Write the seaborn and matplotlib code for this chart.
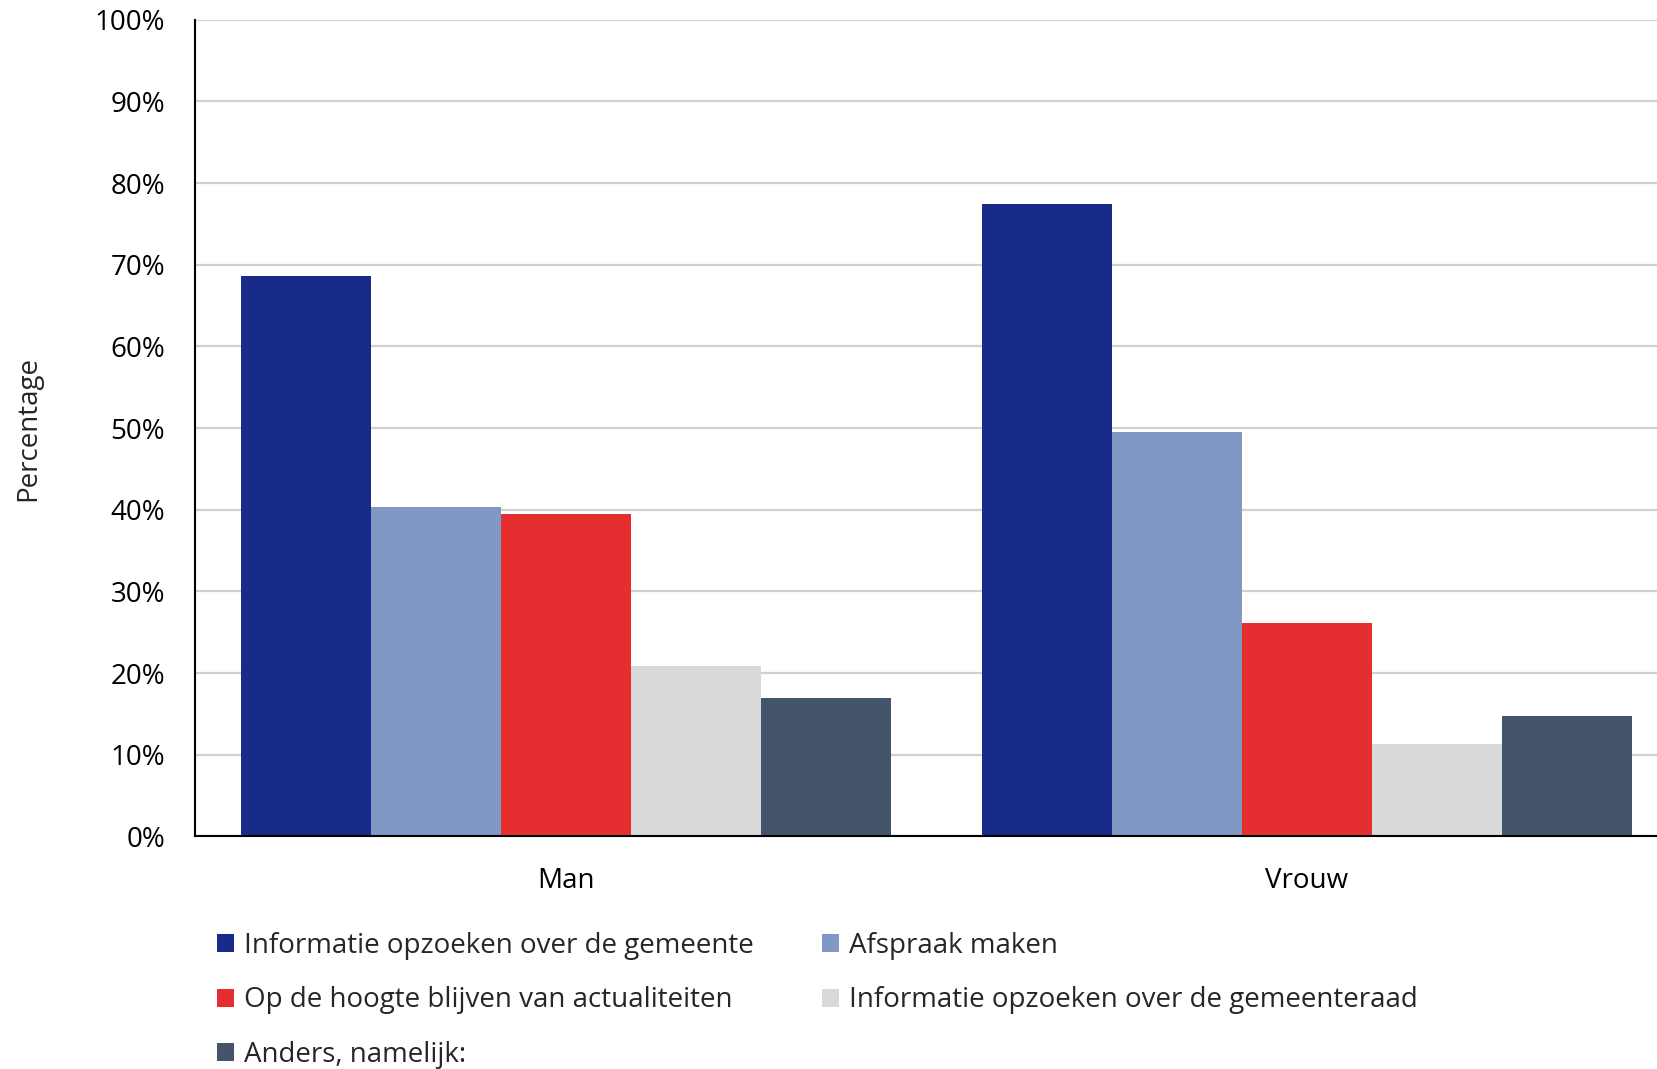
import matplotlib
matplotlib.use("Agg")
import matplotlib.pyplot as plt
from matplotlib.patches import Patch
from matplotlib.ticker import PercentFormatter
import seaborn as sns
import pandas as pd

# Doel van het websitebezoek, uitgesplitst naar geslacht (percentages)
groups = ["Man", "Vrouw"]
purposes = [
    "Informatie opzoeken over de gemeente",
    "Afspraak maken",
    "Op de hoogte blijven van actualiteiten",
    "Informatie opzoeken over de gemeenteraad",
    "Anders, namelijk:",
]
man_values = [68.6, 40.3, 39.5, 20.9, 17.0]
vrouw_values = [77.4, 49.5, 26.1, 11.3, 14.8]
colors = ["#182B88", "#8198C5", "#E52E2F", "#D9D9D9", "#44546A"]
y_ticks = [0, 10, 20, 30, 40, 50, 60, 70, 80, 90, 100]

df = pd.DataFrame({
    "groep": [g for g in groups for _ in purposes],
    "doel": purposes * len(groups),
    "percentage": man_values + vrouw_values,
})

sns.set_theme(style="white")
plt.rcParams["font.family"] = ["Open Sans", "DejaVu Sans"]

fig = plt.figure(figsize=(16.58, 10.69), dpi=100)
ax = fig.add_axes([0.1176, 0.2175, 0.8824, 0.7641])

sns.barplot(
    data=df, x="groep", y="percentage", hue="doel",
    hue_order=purposes, order=groups, palette=colors,
    width=0.877, gap=0, dodge=True, legend=False, ax=ax,
    saturation=1, linewidth=0,
)

ax.set_ylim(0, 100)
ax.set_xlim(-0.5, 1.474)
ax.set_yticks(y_ticks)
ax.yaxis.set_major_formatter(PercentFormatter(decimals=0))
ax.grid(axis="y", color="#D0D0D0", linewidth=1.6)
ax.set_axisbelow(True)
for side in ("top", "right"):
    ax.spines[side].set_visible(False)
for side in ("left", "bottom"):
    ax.spines[side].set_color("black")
    ax.spines[side].set_linewidth(1.5)
ax.tick_params(axis="both", length=0, labelsize=20, colors="black")
ax.tick_params(axis="y", pad=21.5)
ax.tick_params(axis="x", pad=22)
ax.set_xlabel("")
ax.set_ylabel("Percentage", fontsize=20, labelpad=38)

handles = [Patch(facecolor=c, edgecolor="none") for c in colors]
order = [0, 2, 4, 1, 3]
fig.legend(
    [handles[i] for i in order], [purposes[i] for i in order],
    ncol=2, loc="upper left", bbox_to_anchor=(0.1308, 0.1285),
    frameon=False, fontsize=20, handlelength=0.62, handleheight=0.62,
    handletextpad=0.35, labelspacing=0.96, columnspacing=2.45,
    borderpad=0, borderaxespad=0,
)

fig.savefig("out.png", dpi=100, facecolor="white")
